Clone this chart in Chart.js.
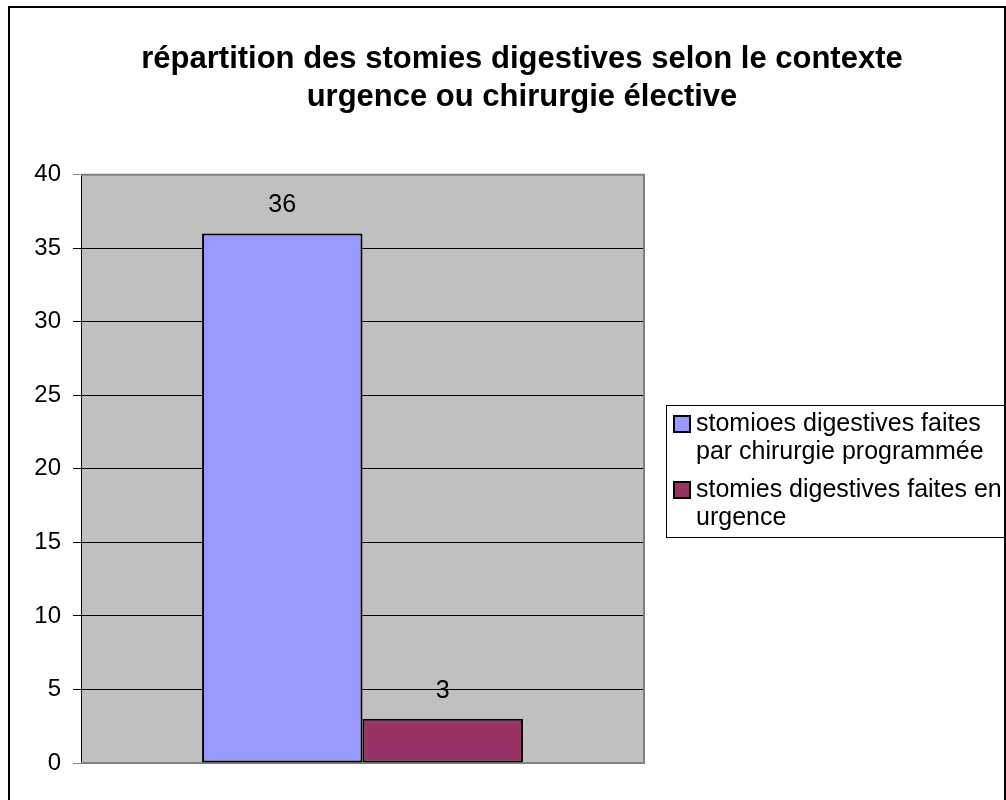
<!DOCTYPE html>
<html lang="fr">
<head>
<meta charset="utf-8">
<script src="https://cdn.jsdelivr.net/npm/chart.js@4/dist/chart.umd.min.js"></script>
<style>
  html, body { margin: 0; padding: 0; background: #fff; }
  #wrap { width: 1006px; height: 800px; }
</style>
</head>
<body>
<div id="wrap"><canvas id="stomiesChart" width="1006" height="800"></canvas></div>
<script>
// Données
const categories = [''];
const titre = ['répartition des stomies digestives selon le contexte', 'urgence ou chirurgie élective'];
const nomProgrammee = ['stomioes digestives faites', 'par chirurgie programmée'];
const nomUrgence = ['stomies digestives faites en', 'urgence'];
const valeursProgrammee = [36];
const valeursUrgence = [3];
const graduations = [0, 5, 10, 15, 20, 25, 30, 35, 40];

const police = '"Liberation Sans", Arial, sans-serif';

// Fond blanc, cadre extérieur et zone de traçage grise
const fondPlugin = {
    id: 'fond',
    afterLayout(chart) {
        // le titre est centré sur le cadre du graphique, pas sur le canvas
        if (chart.titleBlock) {
            chart.titleBlock.left = 38;
            chart.titleBlock.right = 1006;
        }
    },
    beforeDraw(chart) {
        const ctx = chart.ctx;
        const a = chart.chartArea;
        ctx.save();
        ctx.fillStyle = '#ffffff';
        ctx.fillRect(0, 0, chart.width, chart.height);
        ctx.strokeStyle = '#000000';
        ctx.lineWidth = 2;
        ctx.beginPath();
        ctx.moveTo(9, 810);
        ctx.lineTo(9, 7);
        ctx.lineTo(1005, 7);
        ctx.lineTo(1005, 810);
        ctx.stroke();
        ctx.fillStyle = '#c0c0c0';
        ctx.fillRect(a.left, a.top, a.right - a.left, a.bottom - a.top);
        ctx.restore();
    },
    beforeDatasetsDraw(chart) {
        const ctx = chart.ctx;
        const a = chart.chartArea;
        ctx.save();
        ctx.strokeStyle = '#808080';
        ctx.lineWidth = 2;
        ctx.beginPath();
        ctx.moveTo(a.left, a.top);
        ctx.lineTo(a.right, a.top);
        ctx.lineTo(a.right, a.bottom);
        ctx.lineTo(a.left, a.bottom);
        ctx.stroke();
        ctx.restore();
    }
};

// Étiquettes de valeur au-dessus des barres
const etiquettesPlugin = {
    id: 'etiquettes',
    afterDatasetsDraw(chart) {
        const ctx = chart.ctx;
        ctx.save();
        ctx.font = '25px ' + police;
        ctx.fillStyle = '#000';
        ctx.textAlign = 'center';
        ctx.textBaseline = 'middle';
        chart.data.datasets.forEach((ds, i) => {
            chart.getDatasetMeta(i).data.forEach((bar, j) => {
                ctx.fillText(String(ds.data[j]), bar.x, bar.y - 28);
            });
        });
        ctx.restore();
    }
};

// Légende encadrée à droite, texte sur deux lignes comme dans Excel
const legendePlugin = {
    id: 'legende',
    afterDraw(chart) {
        const ctx = chart.ctx;
        ctx.save();
        ctx.strokeStyle = '#000';
        ctx.lineWidth = 1;
        ctx.strokeRect(666.5, 405.5, 338, 132);
        ctx.font = '25px ' + police;
        ctx.textAlign = 'left';
        ctx.textBaseline = 'middle';
        chart.data.datasets.forEach((ds, i) => {
            const y0 = 424 + i * 66;
            ctx.fillStyle = ds.backgroundColor;
            ctx.fillRect(674, y0 - 8, 16, 16);
            ctx.strokeStyle = '#000';
            ctx.lineWidth = 2;
            ctx.strokeRect(674, y0 - 8, 16, 16);
            ctx.fillStyle = '#000';
            ds.lignesLegende.forEach((ligne, k) => {
                ctx.fillText(ligne, 696, y0 + k * 28);
            });
        });
        ctx.restore();
    }
};

const ctx = document.getElementById('stomiesChart').getContext('2d');
const myChart = new Chart(ctx, {
    type: 'bar',
    data: {
        labels: categories,
        datasets: [{
            label: nomProgrammee.join(' '),
            lignesLegende: nomProgrammee,
            data: valeursProgrammee,
            backgroundColor: '#9999ff',
            borderColor: '#000',
            borderWidth: 2,
            borderSkipped: false
        }, {
            label: nomUrgence.join(' '),
            lignesLegende: nomUrgence,
            data: valeursUrgence,
            backgroundColor: '#993366',
            borderColor: '#000',
            borderWidth: 2,
            borderSkipped: false
        }]
    },
    options: {
        responsive: false,
        animation: false,
        devicePixelRatio: 1,
        categoryPercentage: 0.57,
        barPercentage: 1.0,
        layout: { padding: { left: 0, right: 0, top: 0, bottom: 37 } },
        plugins: {
            legend: { display: false },
            tooltip: { enabled: false },
            title: {
                display: true,
                text: titre,
                color: '#000',
                font: { family: police, size: 31, weight: 'bold', lineHeight: 1.22 },
                padding: { top: 41, bottom: 58 }
            }
        },
        scales: {
            x: { display: false },
            y: {
                min: graduations[0],
                max: graduations[graduations.length - 1],
                afterFit(scale) { scale.width = 81; },
                afterBuildTicks(scale) { scale.ticks = graduations.map(v => ({ value: v })); },
                ticks: { color: '#000', font: { family: police, size: 24 }, padding: 12 },
                grid: {
                    color: c => (c.tick && (c.tick.value === 0 || c.tick.value === 40)) ? '#808080' : '#000',
                    lineWidth: 1,
                    tickLength: 8
                },
                border: { display: true, color: '#000', width: 1 }
            },
            // axe fantôme pour réserver la place de la légende
            vide: {
                type: 'linear',
                position: 'right',
                afterFit(scale) { scale.width = 362; },
                ticks: { display: false },
                grid: { display: false },
                border: { display: false }
            }
        }
    },
    plugins: [fondPlugin, etiquettesPlugin, legendePlugin]
});
</script>
</body>
</html>
